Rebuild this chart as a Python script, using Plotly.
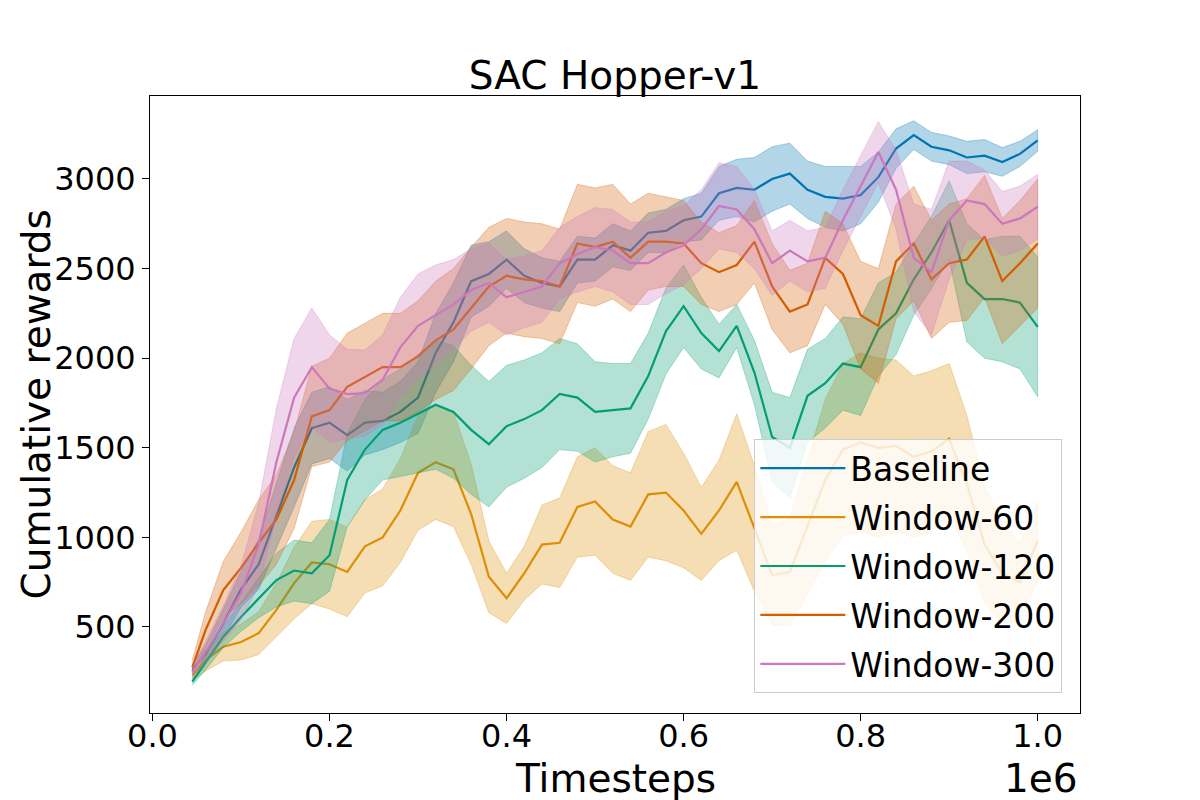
import plotly.graph_objects as go

# timesteps in units of 1e6
steps = [0.045, 0.06, 0.08, 0.10, 0.12, 0.14, 0.16, 0.18, 0.20, 0.22,
         0.24, 0.26, 0.28, 0.30, 0.32, 0.34, 0.36, 0.38, 0.40, 0.42,
         0.44, 0.46, 0.48, 0.50, 0.52, 0.54, 0.56, 0.58, 0.60, 0.62,
         0.64, 0.66, 0.68, 0.70, 0.72, 0.74, 0.76, 0.78, 0.80, 0.82,
         0.84, 0.86, 0.88, 0.90, 0.92, 0.94, 0.96, 0.98, 1.00]

baseline = [260, 350, 520, 710, 850, 1120, 1390, 1610, 1640, 1570,
            1640, 1650, 1700, 1780, 2030, 2200, 2430, 2470, 2550, 2460,
            2420, 2400, 2550, 2550, 2630, 2600, 2700, 2710, 2770, 2790,
            2920, 2950, 2940, 3000, 3030, 2940, 2900, 2890, 2910, 3010,
            3170, 3245, 3180, 3160, 3120, 3130, 3095, 3140, 3215]
baseline_sd = [30, 50, 80, 100, 140, 180, 220, 200, 200, 200,
               180, 160, 170, 200, 220, 220, 200, 180, 160, 150,
               140, 140, 130, 120, 120, 110, 110, 120, 120, 130,
               150, 160, 180, 180, 170, 160, 170, 180, 160, 140,
               110, 80, 80, 80, 90, 90, 80, 70, 60]

win60 = [230, 315, 390, 416, 466, 595, 745, 860, 850, 807,
         950, 1000, 1150, 1360, 1420, 1380, 1130, 780, 660, 800,
         960, 970, 1170, 1200, 1100, 1060, 1240, 1250, 1150, 1020,
         1150, 1310, 1050, 790, 807, 1060, 1320, 1490, 1530, 1500,
         1510, 1450, 1480, 1550, 1300, 960, 800, 750, 980]
win60_sd = [30, 60, 80, 100, 120, 150, 200, 230, 250, 250,
            260, 270, 290, 320, 320, 320, 280, 200, 140, 150,
            220, 250, 280, 300, 300, 300, 350, 380, 320, 260,
            280, 380, 350, 280, 300, 380, 450, 480, 500, 500,
            480, 450, 450, 420, 380, 330, 280, 220, 220]

win120 = [195, 300, 445, 556, 662, 762, 815, 800, 900, 1320,
          1490, 1600, 1640, 1690, 1740, 1700, 1600, 1520, 1620, 1660,
          1710, 1800, 1780, 1700, 1710, 1720, 1900, 2150, 2290, 2140,
          2040, 2180, 1920, 1560, 1500, 1790, 1860, 1970, 1950, 2160,
          2250, 2440, 2590, 2770, 2420, 2330, 2330, 2310, 2175]
win120_sd = [20, 40, 60, 80, 110, 150, 170, 170, 200, 260,
             280, 280, 300, 330, 360, 370, 360, 350, 340, 330,
             320, 310, 300, 280, 260, 250, 240, 240, 230, 200,
             150, 120, 180, 250, 280, 260, 250, 260, 270, 260,
             230, 200, 200, 220, 330, 330, 350, 370, 390]

win200 = [275, 483, 706, 830, 970, 1100, 1320, 1675, 1710, 1840,
          1895, 1950, 1950, 2010, 2100, 2160, 2280, 2400, 2460, 2440,
          2430, 2400, 2640, 2620, 2650, 2560, 2650, 2650, 2640, 2530,
          2480, 2520, 2650, 2400, 2260, 2300, 2560, 2470, 2240, 2180,
          2540, 2640, 2440, 2530, 2550, 2680, 2430, 2530, 2640]
win200_sd = [40, 100, 160, 200, 240, 250, 270, 280, 290, 300,
             300, 300, 300, 310, 330, 340, 340, 330, 320, 320,
             320, 320, 330, 330, 320, 300, 270, 250, 240, 230,
             220, 220, 230, 240, 230, 230, 260, 280, 300, 320,
             320, 320, 330, 330, 340, 340, 350, 350, 360]

win300 = [250, 360, 520, 690, 960, 1420, 1780, 1950, 1830, 1800,
          1805, 1880, 2060, 2180, 2240, 2300, 2380, 2420, 2340, 2370,
          2400, 2530, 2580, 2620, 2600, 2530, 2530, 2590, 2630, 2720,
          2850, 2830, 2720, 2530, 2600, 2540, 2560, 2770, 2960, 3150,
          2940, 2560, 2480, 2770, 2880, 2860, 2750, 2780, 2845]
win300_sd = [30, 60, 100, 150, 230, 300, 330, 330, 300, 250,
             240, 250, 280, 290, 280, 250, 230, 220, 210, 200,
             200, 200, 210, 220, 230, 230, 230, 230, 220, 220,
             240, 240, 220, 180, 170, 170, 170, 170, 170, 170,
             220, 300, 350, 330, 220, 190, 180, 180, 180]

names = ['Baseline', 'Window-60', 'Window-120', 'Window-200', 'Window-300']
means = [baseline, win60, win120, win200, win300]
sds = [baseline_sd, win60_sd, win120_sd, win200_sd, win300_sd]
# seaborn colorblind
colors = [(1, 115, 178), (222, 143, 5), (2, 158, 115), (213, 94, 0), (204, 120, 188)]

FONT = 'DejaVu Sans'

fig = go.Figure()
for name, m, s, c in zip(names, means, sds, colors):
    rgb = 'rgb(%d,%d,%d)' % c
    rgba = 'rgba(%d,%d,%d,0.3)' % c
    upper = [a + b for a, b in zip(m, s)]
    lower = [a - b for a, b in zip(m, s)]
    fig.add_trace(go.Scatter(x=steps, y=m, mode='lines', name=name,
                             legendgroup=name,
                             line=dict(color=rgb, width=2.2)))
    fig.add_trace(go.Scatter(x=steps + steps[::-1], y=upper + lower[::-1],
                             mode='lines', fill='toself', fillcolor=rgba,
                             line=dict(color=rgba, width=1),
                             legendgroup=name, showlegend=False,
                             hoverinfo='skip'))

# page has an 8px body margin, so everything is placed 8px up/left
fig.update_layout(
    width=1200, height=800,
    margin=dict(l=142, r=128, t=88, b=95),
    paper_bgcolor='white', plot_bgcolor='white',
    font=dict(family=FONT, size=32, color='black'),
    title=dict(text='SAC Hopper-v1', x=(615 - 8) / 1200, xanchor='center',
               y=1 - 67 / 800, yanchor='middle',
               font=dict(family=FONT, size=39, color='black')),
    showlegend=True,
    legend=dict(x=0.981, xanchor='right', y=0.032, yanchor='bottom',
                bgcolor='rgba(255,255,255,0.8)', bordercolor='#cccccc',
                borderwidth=1, font=dict(family=FONT, size=33, color='black'),
                itemwidth=85, traceorder='grouped', tracegroupgap=3),
)

fig.update_xaxes(range=[-0.0028, 1.0478], tickvals=[0, 0.2, 0.4, 0.6, 0.8, 1.0],
                 ticktext=['0.0', '0.2', '0.4', '0.6', '0.8', '1.0'],
                 showgrid=False, zeroline=False, showline=True, mirror=True,
                 linecolor='black', linewidth=1, ticks='outside', ticklen=7,
                 tickwidth=1, tickcolor='black', ticklabelstandoff=-12,
                 tickfont=dict(family=FONT, size=32, color='black'))
fig.update_yaxes(range=[20, 3463], tickvals=[500, 1000, 1500, 2000, 2500, 3000],
                 showgrid=False, zeroline=False, showline=True, mirror=True,
                 linecolor='black', linewidth=1, ticks='outside', ticklen=7,
                 tickwidth=1, tickcolor='black',
                 tickfont=dict(family=FONT, size=32, color='black'))

fig.add_annotation(text='Timesteps', xref='paper', yref='paper', x=0.5, y=0,
                   xanchor='center', yanchor='middle', yshift=-65, showarrow=False,
                   font=dict(family=FONT, size=39, color='black'))
fig.add_annotation(text='1e6', xref='paper', yref='paper', x=1.0, y=0,
                   xanchor='right', yanchor='middle', yshift=-65, showarrow=False,
                   font=dict(family=FONT, size=39, color='black'))
fig.add_annotation(text='Cumulative rewards', xref='paper', yref='paper', x=0, y=0.5,
                   xanchor='center', yanchor='middle', xshift=-114, textangle=-90,
                   showarrow=False, font=dict(family=FONT, size=39, color='black'))

fig.write_html('out.html')
